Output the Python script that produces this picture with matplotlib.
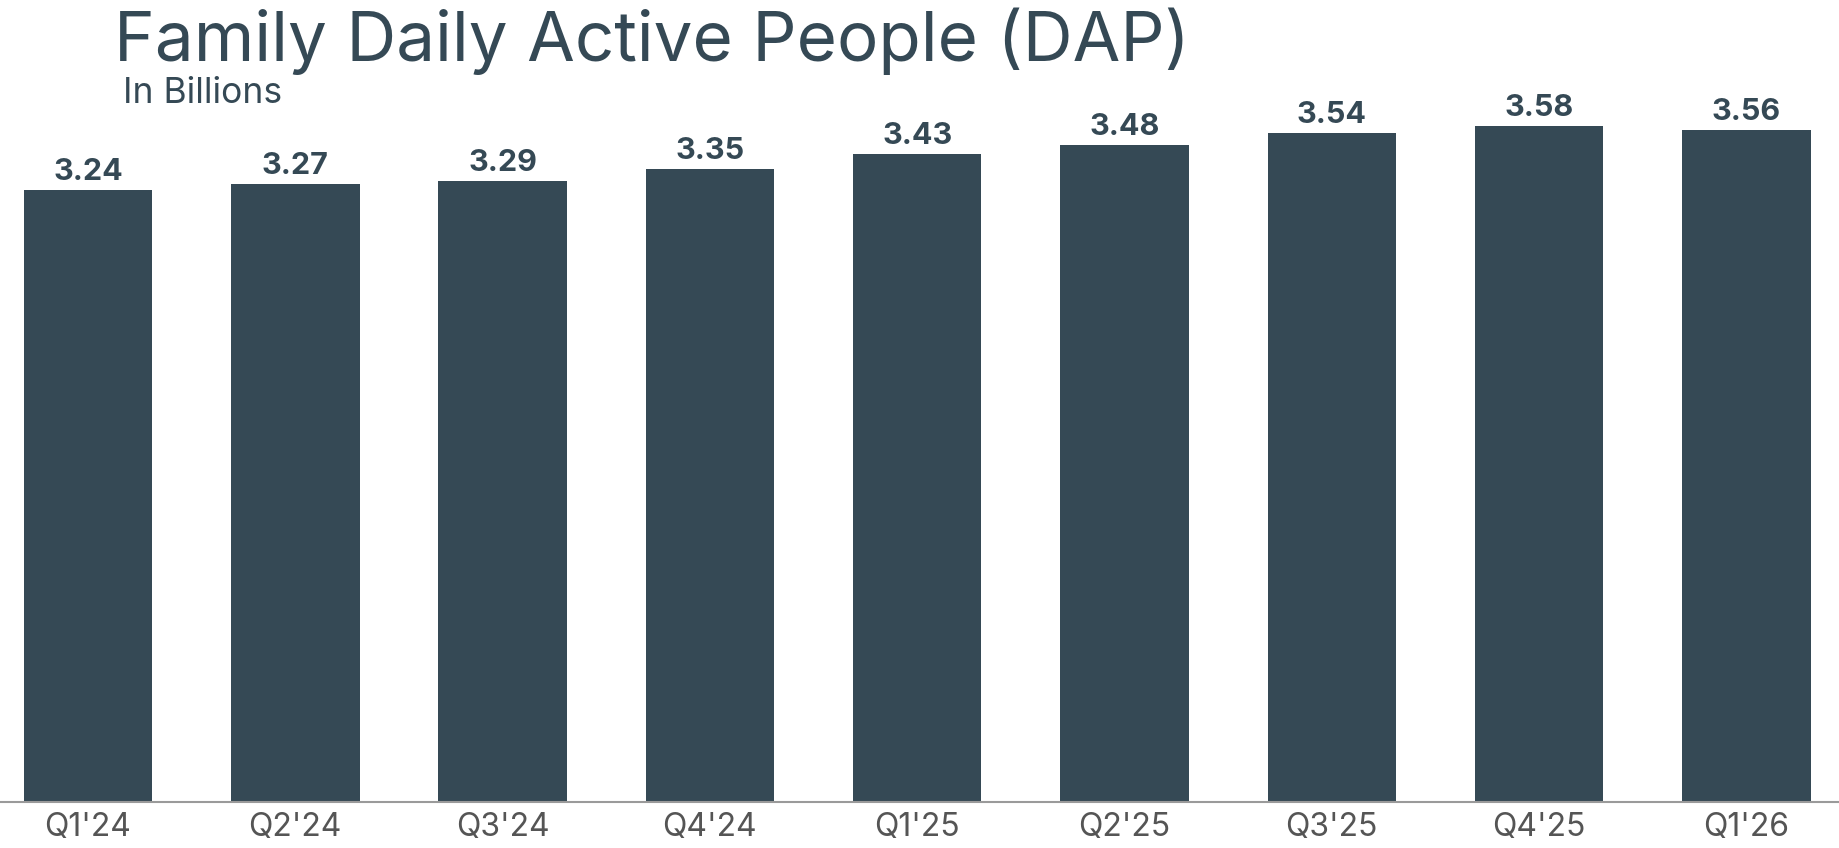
import matplotlib
matplotlib.use("Agg")
import matplotlib.pyplot as plt

categories = ["Q1'24", "Q2'24", "Q3'24", "Q4'24", "Q1'25", "Q2'25", "Q3'25", "Q4'25", "Q1'26"]
values = [3.24, 3.27, 3.29, 3.35, 3.43, 3.48, 3.54, 3.58, 3.56]
labels = ["3.24", "3.27", "3.29", "3.35", "3.43", "3.48", "3.54", "3.58", "3.56"]

BAR = "#354955"
TXT = "#354955"
TICK = "#555555"

plt.rcParams['font.family'] = ['Inter', 'DejaVu Sans']

W, H, DPI = 1840, 848, 100
fig = plt.figure(figsize=(W / DPI, H / DPI), dpi=DPI)
fig.patch.set_facecolor("white")

base_px = 802
ppu = 188.9
pitch = 207.3
c0 = 88
ax = fig.add_axes([0, (H - base_px) / H, 1, base_px / H])
ax.set_xlim(-c0 / pitch, (W - c0) / pitch)
ax.set_ylim(0, base_px / ppu)

x = list(range(len(categories)))
ax.bar(x, values, width=0.62, color=BAR, zorder=2)
for xi, v, lab in zip(x, values, labels):
    ax.annotate(lab, (xi, v), xytext=(0, 4), textcoords="offset pixels",
                ha="center", va="bottom", fontsize=22, fontweight="bold", color=TXT)

for s in ["top", "right", "left"]:
    ax.spines[s].set_visible(False)
ax.spines["bottom"].set_color("#9a9a9a")
ax.spines["bottom"].set_linewidth(1.5)
ax.set_yticks([])
ax.set_xticks(x)
ax.set_xticklabels(categories, fontsize=23, color=TICK)
ax.tick_params(axis="x", length=0, pad=7)
ax.set_facecolor("none")

fig.text(114 / W, 1 - 61 / H, "Family Daily Active People (DAP)", fontsize=49.8,
         color=TXT, ha="left", va="baseline")
fig.text(123 / W, 1 - 103 / H, "In Billions", fontsize=25.5, color=TXT,
         ha="left", va="baseline")

fig.savefig("out.png", dpi=DPI, facecolor="white")
